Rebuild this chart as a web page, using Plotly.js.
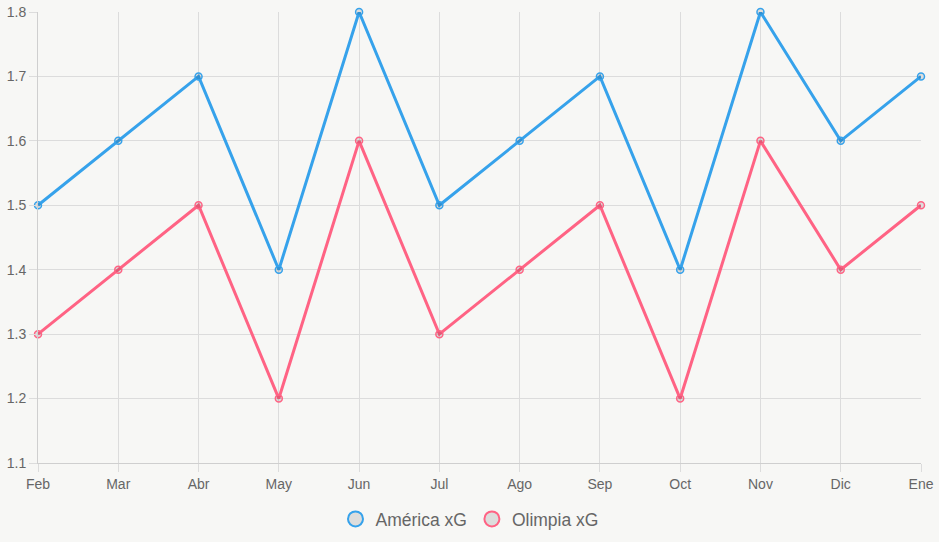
<!DOCTYPE html>
<html>
<head>
<meta charset="utf-8">
<script src="https://cdn.plot.ly/plotly-3.0.1.min.js"></script>
<style>
  html, body { margin: 0; padding: 0; background: #f7f7f5; }
  #chart { width: 939px; height: 542px; }
</style>
</head>
<body>
<div id="chart"></div>
<script>
// Monthly expected goals for both clubs
const months = ["Feb", "Mar", "Abr", "May", "Jun", "Jul", "Ago", "Sep", "Oct", "Nov", "Dic", "Ene"];
const americaXG = [1.5, 1.6, 1.7, 1.4, 1.8, 1.5, 1.6, 1.7, 1.4, 1.8, 1.6, 1.7];
const olimpiaXG = [1.3, 1.4, 1.5, 1.2, 1.6, 1.3, 1.4, 1.5, 1.2, 1.6, 1.4, 1.5];
const seriesNames = ["América xG", "Olimpia xG"];
const seriesColors = ["#36a2eb", "#ff6384"];

const font = "Liberation Sans, Arial, Helvetica, sans-serif";

function lineTrace(values, color) {
  return {
    x: months, y: values, type: "scatter", mode: "lines+markers",
    line: { color: color, width: 3 },
    marker: { size: 7, color: "rgba(0,0,0,0.1)", line: { color: color, width: 1.5 } },
    cliponaxis: false,
    showlegend: false, hoverinfo: "x+y"
  };
}

// Legend-only entries drawn as plain circles
function legendTrace(name, color) {
  return {
    x: [null], y: [null], type: "scatter", mode: "markers", name: name,
    marker: { size: 15, color: "rgba(0,0,0,0.1)", line: { color: color, width: 2 } },
    showlegend: true
  };
}

const data = [
  lineTrace(americaXG, seriesColors[0]),
  lineTrace(olimpiaXG, seriesColors[1]),
  legendTrace(seriesNames[0], seriesColors[0]),
  legendTrace(seriesNames[1], seriesColors[1])
];

const layout = {
  width: 939, height: 542,
  paper_bgcolor: "#f7f7f5", plot_bgcolor: "#f7f7f5",
  margin: { l: 38, r: 18, t: 12, b: 79, autoexpand: false },
  font: { family: font, color: "#666" },
  xaxis: {
    type: "category", range: [0, months.length - 1],
    showgrid: true, gridcolor: "#dcdcdc", gridwidth: 1,
    showline: true, linecolor: "#cfcfcf", linewidth: 1,
    ticks: "outside", ticklen: 8, tickcolor: "#dcdcdc",
    tickfont: { size: 14, color: "#666", family: font },
    zeroline: false, fixedrange: true
  },
  yaxis: {
    range: [1.1, 1.8], dtick: 0.1, tick0: 1.1, tickformat: ".1f",
    showgrid: true, gridcolor: "#dcdcdc", gridwidth: 1,
    showline: true, linecolor: "#cfcfcf", linewidth: 1,
    ticks: "outside", ticklen: 8, tickcolor: "#dcdcdc",
    tickfont: { size: 14, color: "#666", family: font },
    zeroline: false, fixedrange: true
  },
  legend: {
    orientation: "h", xref: "container", x: 0.5, xanchor: "center",
    yref: "container", y: 23 / 542, yanchor: "middle",
    font: { size: 17.5, color: "#666", family: font },
    bgcolor: "rgba(0,0,0,0)", itemwidth: 30
  },
  showlegend: true
};

Plotly.newPlot("chart", data, layout, { displayModeBar: false, staticPlot: true });
</script>
</body>
</html>
